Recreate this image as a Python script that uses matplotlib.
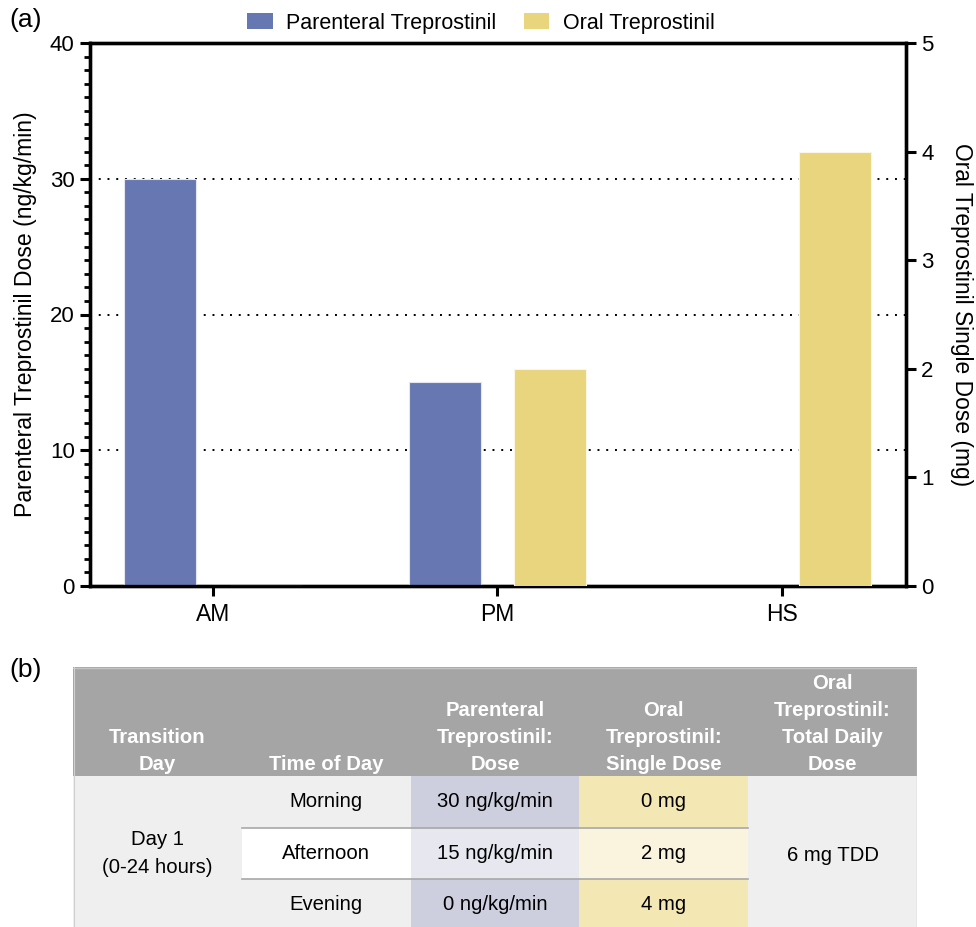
import matplotlib
matplotlib.use('Agg')
import matplotlib.pyplot as plt
from matplotlib.patches import Rectangle, Patch
import numpy as np

plt.rcParams['font.family'] = ['Liberation Sans', 'DejaVu Sans']

# ---------------- data ----------------
categories = ['AM', 'PM', 'HS']
parenteral_dose = [30, 15, 0]   # ng/kg/min (left axis)
oral_dose = [0, 2, 4]           # mg (right axis)
series_names = ['Parenteral Treprostinil', 'Oral Treprostinil']

left_ticks = [0, 10, 20, 30, 40]
right_ticks = [0, 1, 2, 3, 4, 5]

table_headers = [["Transition", "Day"],
                 ["Time of Day"],
                 ["Parenteral", "Treprostinil:", "Dose"],
                 ["Oral", "Treprostinil:", "Single Dose"],
                 ["Oral", "Treprostinil:", "Total Daily", "Dose"]]
transition_day = ["Day 1", "(0-24 hours)"]
time_of_day = ["Morning", "Afternoon", "Evening"]
total_daily_dose = 6  # mg TDD

BLUE = '#6777B1'
YELLOW = '#E8D57E'

W, H = 976, 927
fig = plt.figure(figsize=(W / 100, H / 100), dpi=100)

# ---------------- (a) bar chart ----------------
ax = fig.add_axes([90 / W, 1 - 586 / H, 816 / W, 543 / H])
ax2 = ax.twinx()

x = np.arange(len(categories))
bw = 0.253
off = 0.186
ax.bar(x - off, parenteral_dose, width=bw, color=BLUE, edgecolor='#E4E7F2', linewidth=0.8, zorder=3)
ax2.bar(x + off, oral_dose, width=bw, color=YELLOW, edgecolor='#FBF6E4', linewidth=0.8, zorder=3)

ax.set_xlim(-0.432, 2.436)
ax.set_ylim(0, 40)
ax2.set_ylim(0, 5)
ax.set_xticks(x)
ax.set_xticklabels(categories)
ax.set_yticks(left_ticks)
ax.set_yticks(np.arange(0, 41, 1), minor=True)
ax2.set_yticks(right_ticks)

for a in (ax, ax2):
    for s in a.spines.values():
        s.set_linewidth(2.4)
        s.set_color('black')

ax.tick_params(axis='y', which='major', direction='out', length=7, width=2.2, labelsize=16, pad=4)
ax.tick_params(axis='x', which='major', direction='out', length=7, width=2.2, labelsize=16.5, pad=5)
ax.tick_params(axis='y', which='minor', direction='out', length=4, width=2.0)
ax.tick_params(axis='x', which='minor', length=0)
ax2.tick_params(axis='y', which='major', direction='out', length=7, width=2.2, labelsize=16, pad=4)

ax.set_axisbelow(True)
for g in [10, 20, 30]:
    ax.axhline(g, color='black', linestyle=(0, (1, 3.5)), linewidth=1.4, zorder=1)

ax.set_ylabel('Parenteral Treprostinil Dose (ng/kg/min)', fontsize=16.6, labelpad=9)
ax2.set_ylabel('Oral Treprostinil Single Dose (mg)', fontsize=16.4, rotation=270, labelpad=28)

handles = [Patch(facecolor=BLUE, edgecolor='none'), Patch(facecolor=YELLOW, edgecolor='none')]
fig.legend(handles, series_names, loc='center', bbox_to_anchor=(481 / W, 1 - 23 / H), ncol=2,
           frameon=False, fontsize=15.5, handlelength=1.2, handleheight=0.72,
           handletextpad=0.62, columnspacing=1.25)

fig.text(9 / W, 1 - 20 / H, '(a)', fontsize=19, va='center', ha='left')
fig.text(9 / W, 1 - 670 / H, '(b)', fontsize=19, va='center', ha='left')

# ---------------- (b) table ----------------
TW, TH = 844, 260
tax = fig.add_axes([73 / W, 0, TW / W, TH / H])
tax.set_xlim(0, TW)
tax.set_ylim(TH, 0)
tax.axis('off')

ncol = 5
cw = TW / ncol
hh = 109
rh = 51.6
HEADER = '#A5A5A5'
LIGHT = '#EFEFEF'
col_colors = {
    2: ['#CDCFDE', '#E7E8EF', '#CDCFDE'],
    3: ['#F3E7B3', '#FAF3DD', '#F3E7B3'],
}

tax.add_patch(Rectangle((0, 0), TW, hh, facecolor=HEADER, edgecolor='none'))
tax.add_patch(Rectangle((0, hh), TW, TH - hh + 10, facecolor=LIGHT, edgecolor='none'))
tax.add_patch(Rectangle((cw, hh + rh), cw, rh, facecolor='white', edgecolor='none'))
for c, cols in col_colors.items():
    for r, colr in enumerate(cols):
        tax.add_patch(Rectangle((c * cw, hh + r * rh), cw, rh + (10 if r == 2 else 0),
                                facecolor=colr, edgecolor='none'))
for r in (1, 2):
    tax.plot([cw, 4 * cw], [hh + r * rh, hh + r * rh], color='#A8A8A8', lw=1.2)
tax.plot([0, TW, TW], [0.5, 0.5, TH], color='#C4C4C4', lw=1.0)
tax.plot([0.5, 0.5], [0, TH], color='#D0D0D0', lw=0.8)

line_sp = 26.7
last_c = 97
for c, lines in enumerate(table_headers):
    n = len(lines)
    for i, t in enumerate(lines):
        y = last_c - (n - 1 - i) * line_sp
        tax.text((c + 0.5) * cw, y, t, color='white', fontweight='bold', fontsize=14.6,
                 ha='center', va='center')

fs = 14.6
body_mid = hh + 1.5 * rh
tax.text(0.5 * cw, body_mid - 14, transition_day[0], fontsize=fs, ha='center', va='center')
tax.text(0.5 * cw, body_mid + 14, transition_day[1], fontsize=fs, ha='center', va='center')
for r in range(3):
    yc = hh + (r + 0.5) * rh
    tax.text(1.5 * cw, yc, time_of_day[r], fontsize=fs, ha='center', va='center')
    tax.text(2.5 * cw, yc, f'{parenteral_dose[r]} ng/kg/min', fontsize=fs, ha='center', va='center')
    tax.text(3.5 * cw, yc, f'{oral_dose[r]} mg', fontsize=fs, ha='center', va='center')
tax.text(4.5 * cw, body_mid + 2, f'{total_daily_dose} mg TDD', fontsize=fs, ha='center', va='center')

fig.savefig('out.png', dpi=100)
